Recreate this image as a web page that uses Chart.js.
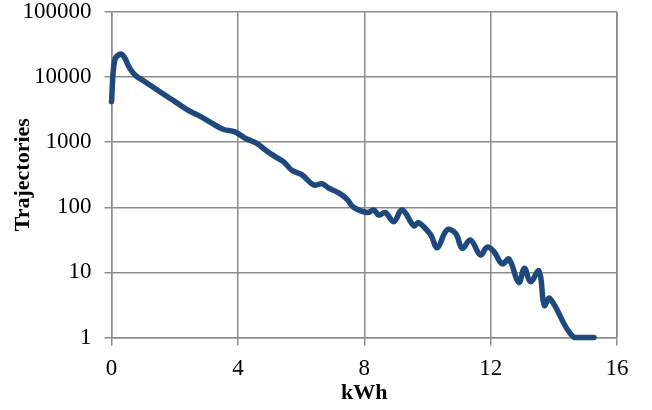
<!DOCTYPE html>
<html>
<head>
<meta charset="utf-8">
<script src="https://cdn.jsdelivr.net/npm/chart.js@4.4.0/dist/chart.umd.min.js"></script>
<style>
  html, body { margin: 0; padding: 0; background: #ffffff; }
  #wrap { width: 652px; height: 410px; position: relative; }
</style>
</head>
<body>
<div id="wrap"><canvas id="c" width="652" height="410"></canvas></div>
<script>
// Energy (kWh)
const kwh = [0.0, 0.1, 0.27, 0.4, 0.55, 0.75, 1.06, 1.7, 2.01, 2.42, 2.74, 3.19, 3.53, 3.91, 4.23, 4.6, 4.87, 5.18, 5.45, 5.71, 6.03, 6.4, 6.66, 6.87, 7.19, 7.45, 7.66, 8.09, 8.3, 8.46, 8.67, 8.93, 9.2, 9.57, 9.72, 10.1, 10.31, 10.62, 10.89, 11.1, 11.36, 11.68, 11.89, 12.1, 12.37, 12.58, 12.89, 13.07, 13.26, 13.53, 13.7, 13.87, 14.64, 15.27];
// Number of trajectories
const trajectories = [4200, 18000, 22500, 20500, 14500, 10700, 8500, 5250, 4200, 3100, 2600, 1950, 1580, 1440, 1150, 960, 760, 600, 500, 370, 315, 220, 230, 198, 166, 134, 100, 83, 91, 76, 83, 60, 91, 52, 58, 38, 24, 45, 40, 23.5, 31.5, 18.5, 24.5, 21, 13.5, 16, 7, 11.6, 7.2, 10.5, 3.1, 4.0, 1, 1];
const yTicks = [1, 10, 100, 1000, 10000, 100000];
const xTitle = 'kWh';
const yTitle = 'Trajectories';

const points = kwh.map((x, i) => ({ x: x, y: trajectories[i] }));
const gridGray = '#8c8c8c';
const serif = "'Liberation Serif', 'Times New Roman', serif";

new Chart(document.getElementById('c'), {
  type: 'line',
  data: {
    datasets: [{
      data: points,
      borderColor: '#1F497D',
      borderWidth: 5.5,
      pointRadius: 0,
      tension: 0.4,
      fill: false,
      clip: false,
      borderCapStyle: 'round',
      borderJoinStyle: 'round'
    }]
  },
  options: {
    responsive: false,
    animation: false,
    devicePixelRatio: 1,
    layout: { autoPadding: false, padding: { top: 12, right: 35, left: 0, bottom: 0 } },
    plugins: { legend: { display: false }, tooltip: { enabled: false } },
    scales: {
      x: {
        type: 'linear',
        min: 0, max: 16,
        ticks: { stepSize: 4, color: '#000', font: { family: serif, size: 23 }, padding: 10, maxRotation: 0 },
        grid: { color: gridGray, lineWidth: 1.5, tickLength: 8, drawTicks: true },
        border: { display: true, color: gridGray, width: 1.5 },
        title: { display: true, text: xTitle, color: '#000', font: { family: serif, size: 22, weight: 'bold' }, padding: { top: 0, bottom: 3 } },
        afterFit: s => { s.height = 72.5; s.paddingLeft = 0; s.paddingRight = 0; }
      },
      y: {
        type: 'logarithmic',
        min: 1, max: 100000,
        afterBuildTicks: s => { s.ticks = yTicks.map(v => ({ value: v })); },
        ticks: { color: '#000', font: { family: serif, size: 23 }, padding: 13, callback: v => String(v) },
        grid: { color: gridGray, lineWidth: 1.5, tickLength: 7, drawTicks: true },
        border: { display: true, color: gridGray, width: 1.5 },
        title: { display: true, text: yTitle, color: '#000', font: { family: serif, size: 22, weight: 'bold' }, padding: { top: 10, bottom: 0 } },
        afterFit: s => { s.width = 111.5; s.paddingTop = 0; s.paddingBottom = 0; }
      }
    }
  },
  plugins: [{
    id: 'rightBorder',
    afterDraw(chart) {
      const a = chart.chartArea, ctx = chart.ctx;
      ctx.save();
      ctx.strokeStyle = gridGray; ctx.lineWidth = 1.5;
      ctx.beginPath(); ctx.moveTo(a.right, a.top); ctx.lineTo(a.right, a.bottom); ctx.stroke();
      ctx.restore();
    }
  }]
});
</script>
</body>
</html>
